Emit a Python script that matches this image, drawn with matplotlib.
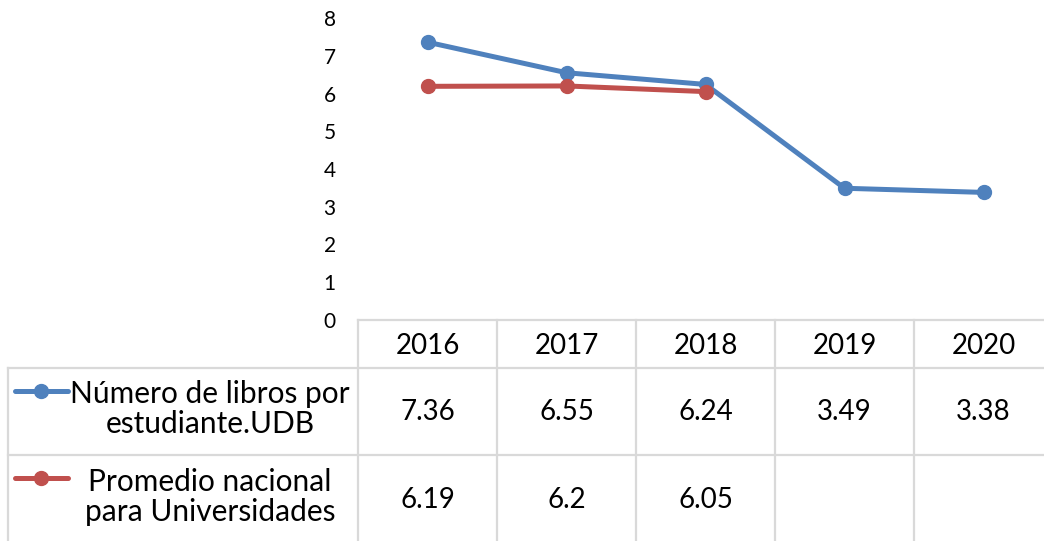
import matplotlib.pyplot as plt
from matplotlib.lines import Line2D

# Data
YEARS = ['2016', '2017', '2018', '2019', '2020']
UDB = [7.36, 6.55, 6.24, 3.49, 3.38]
NACIONAL = [6.19, 6.2, 6.05]
UDB_LABEL = 'Número de libros por\nestudiante.UDB'
NACIONAL_LABEL = 'Promedio nacional\npara Universidades'
BLUE = '#4f81bd'
RED = '#c0504d'
GRID = '#d9d9d9'

plt.rcParams['font.family'] = ['Lato', 'DejaVu Sans']

W, H = 1044, 541
fig = plt.figure(figsize=(W / 100, H / 100), dpi=100)

# Plot area in pixel coordinates
left, right = 358, 1053
top, bottom = 18, 320
cell = (right - left) / len(YEARS)

ax = fig.add_axes([left / W, (H - bottom) / H, (right - left) / W, (bottom - top) / H])
x = range(len(YEARS))
ax.plot(x, UDB, color=BLUE, lw=3.6, marker='o', ms=10, solid_capstyle='round')
ax.plot(range(len(NACIONAL)), NACIONAL, color=RED, lw=3.6, marker='o', ms=10, solid_capstyle='round')
ax.set_xlim(-0.5, len(YEARS) - 0.5)
ax.set_ylim(0, 8)
ax.set_yticks(range(9))
ax.set_xticks([])
ax.tick_params(axis='y', length=0, pad=16, labelsize=15)
for s in ax.spines.values():
    s.set_visible(False)


def fx(px):
    return px / W


def fy(py):
    return 1 - py / H


def hline(y, x0, x1):
    fig.add_artist(Line2D([fx(x0), fx(x1)], [fy(y), fy(y)], color=GRID, lw=1.6))


def vline(xp, y0, y1):
    fig.add_artist(Line2D([fx(xp), fx(xp)], [fy(y0), fy(y1)], color=GRID, lw=1.6))


# Data table grid
row_top, row1, row2, row_end = 320, 368, 455, 545
hline(row_top, left, right)
hline(row1, 8, right)
hline(row2, 8, right)
vline(8, row1, row_end)
for i in range(len(YEARS) + 1):
    vline(left + i * cell, row_top, row_end)

fs = 20
for i, yr in enumerate(YEARS):
    cx = left + (i + 0.5) * cell
    fig.text(fx(cx), fy((row_top + row1) / 2 + 2), yr, ha='center', va='center', fontsize=fs)
    fig.text(fx(cx), fy((row1 + row2) / 2 + 1), f'{UDB[i]:g}', ha='center', va='center', fontsize=fs)
    if i < len(NACIONAL):
        fig.text(fx(cx), fy((row2 + 541) / 2 + 2), f'{NACIONAL[i]:g}', ha='center', va='center', fontsize=fs)

# Row labels with legend keys
for label, color, yk, yt in [(UDB_LABEL, BLUE, 391, 409), (NACIONAL_LABEL, RED, 478, 497)]:
    fig.add_artist(Line2D([fx(15), fx(68)], [fy(yk), fy(yk)], color=color, lw=3.6, solid_capstyle='round'))
    fig.add_artist(Line2D([fx(41)], [fy(yk)], color=color, marker='o', ms=10))
    fig.text(fx(210), fy(yt), label, ha='center', va='center', fontsize=21.5,
             multialignment='center', linespacing=1.12)

fig.savefig('out.png', dpi=100)
